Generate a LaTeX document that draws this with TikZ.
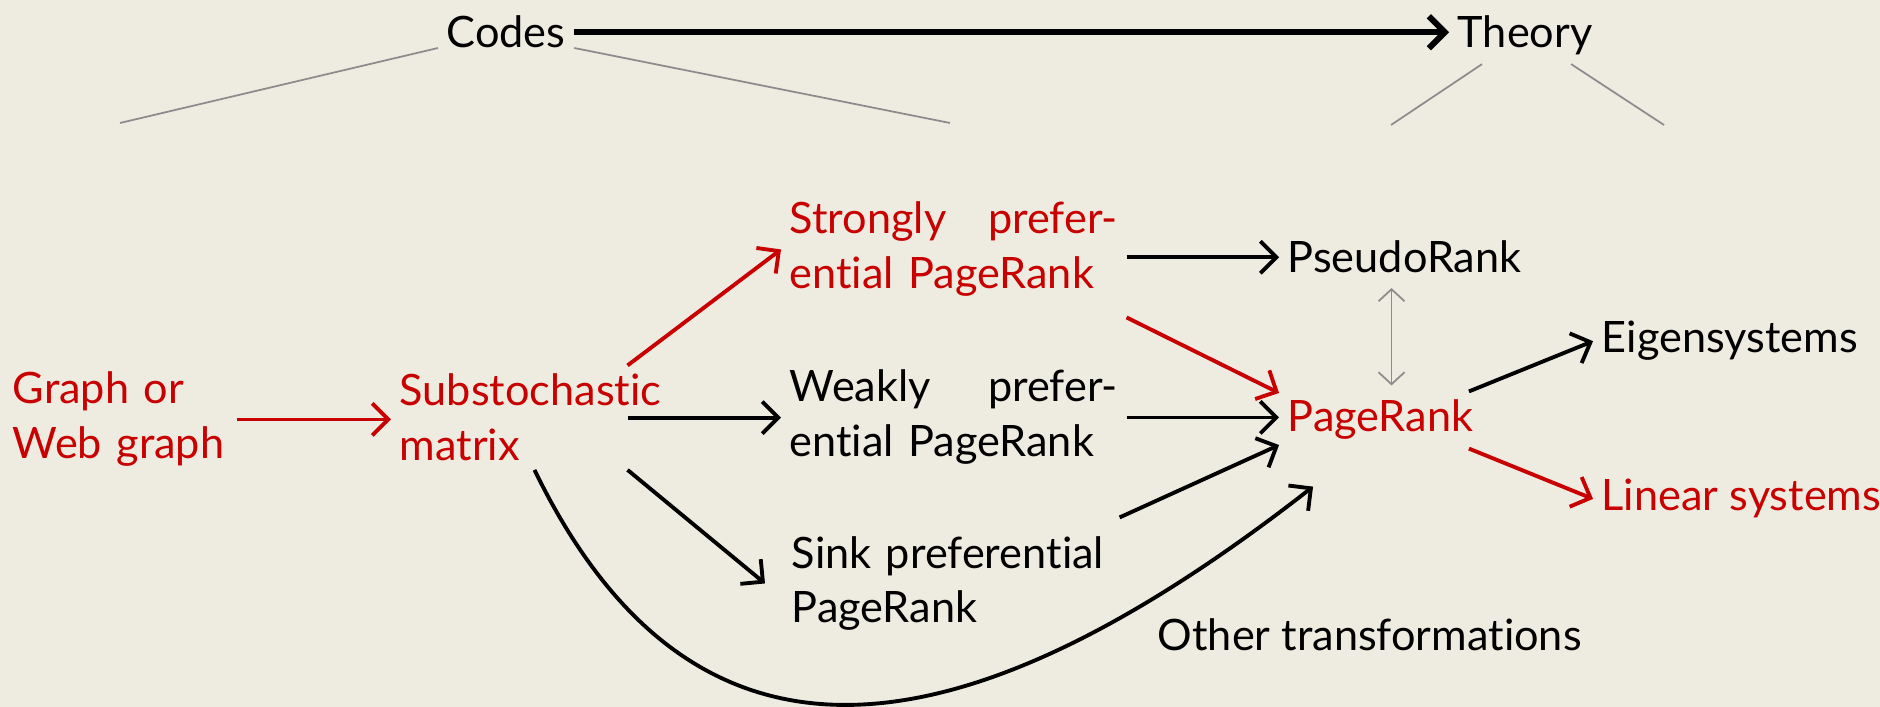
\documentclass[tikz,border=0pt]{standalone}
\usepackage{fontspec}
\setmainfont[Ligatures={NoCommon,NoContextual}, RawFeature={-liga;-dlig}]{Lato}
\usetikzlibrary{arrows.meta}
\definecolor{figback}{HTML}{EEECE1}
\definecolor{figred}{HTML}{C80000}
\definecolor{figgray}{gray}{0.55}
\tikzset{
  term/.style={
    anchor=base west, inner sep=0.08cm, align=left,
    font=\fontsize{12.3}{15.6}\selectfont
  },
  redterm/.style={term, text=figred},
  arrow/.style={-{Straight Barb[length=1.6mm, width=3.2mm]}, line width=1.1pt, draw=black},
  redarrow/.style={arrow, draw=figred},
  bigarrow/.style={arrow, line width=1.7pt},
  branch/.style={draw=figgray, line width=0.5pt},
  linkarrow/.style={{Straight Barb[length=1.2mm, width=2.6mm]}-{Straight Barb[length=1.2mm, width=2.6mm]},
    draw=figgray, line width=0.5pt, shorten <=0.06cm, shorten >=0.06cm}
}

\begin{document}
\begin{tikzpicture}[x=0.01cm, y=-0.01cm]
  \fill[figback] (0,0) rectangle (1880,707);
  \useasboundingbox (0,0) rectangle (1880,707);

  \node[term] (codes) at (438,48) {Codes};
  \node[term] (theory) at (1449,48) {Theory};

  \node[redterm, text width=2.15cm] (graph) at (4,404) {Graph or\\Web graph};
  \node[redterm, text width=2.64cm] (subst) at (391,406) {Substochastic\\matrix};
  \node[redterm, text width=3.28cm] (strong) at (781,234) {Strongly\hfill prefer-\\ential PageRank};
  \node[term, text width=3.28cm] (weak) at (781,402) {Weakly\hfill prefer-\\ential PageRank};
  \node[term, text width=3.14cm] (sink) at (783,568) {Sink preferential\\PageRank};
  \node[term] (pseudo) at (1279,273) {PseudoRank};
  \node[redterm] (pagerank) at (1279,432) {PageRank};
  \node[term] (eigen) at (1593,353) {Eigensystems};
  \node[redterm] (linear) at (1593,511) {Linear systems};
  \node[term] (other) at (1149,650) {Other transformations};

  \coordinate (codesL) at (120,123);
  \coordinate (codesR) at (950,123);
  \coordinate (theoryL) at (1391,125);
  \coordinate (theoryR) at (1664,125);

  \draw[bigarrow] (codes.east) -- (codes.east -| theory.west);
  \draw[branch] (codes.base west) -- (codesL);
  \draw[branch] (codes.base east) -- (codesR);
  \draw[branch] ([xshift=-0.43cm]theory.south) -- (theoryL);
  \draw[branch] ([xshift=0.46cm]theory.south) -- (theoryR);

  \draw[redarrow] (graph.east) -- (graph.east -| subst.west);
  \draw[redarrow] ([xshift=-0.45cm]subst.north east) -- (strong.west);
  \draw[arrow] ([xshift=-0.45cm]subst.east) -- (subst.east -| weak.west);
  \draw[arrow] ([xshift=-0.45cm]subst.south east) -- ([xshift=-0.18cm]sink.west);
  \draw[arrow] ([xshift=-1.38cm]subst.south east)
    .. controls (690,790) and (950,770) .. ([shift={(0.34cm,-0.38cm)}]pagerank.south west);

  \draw[arrow] (strong.east |- pseudo.west) -- (pseudo.west);
  \draw[redarrow] ([yshift=-0.12cm]strong.south east) -- ([yshift=0.27cm]pagerank.west);
  \draw[arrow] (weak.east) -- (weak.east -| pagerank.west);
  \draw[arrow] ([shift={(0.05cm,0.1cm)}]sink.north east) -- ([yshift=-0.25cm]pagerank.west);

  \draw[linkarrow] ([xshift=-0.13cm]pseudo.south) -- ([xshift=-0.13cm]pseudo.south |- pagerank.north);
  \draw[arrow] ([xshift=-0.13cm]pagerank.north east) -- (eigen.west);
  \draw[redarrow] ([xshift=-0.13cm]pagerank.south east) -- (linear.west);
\end{tikzpicture}
\end{document}
